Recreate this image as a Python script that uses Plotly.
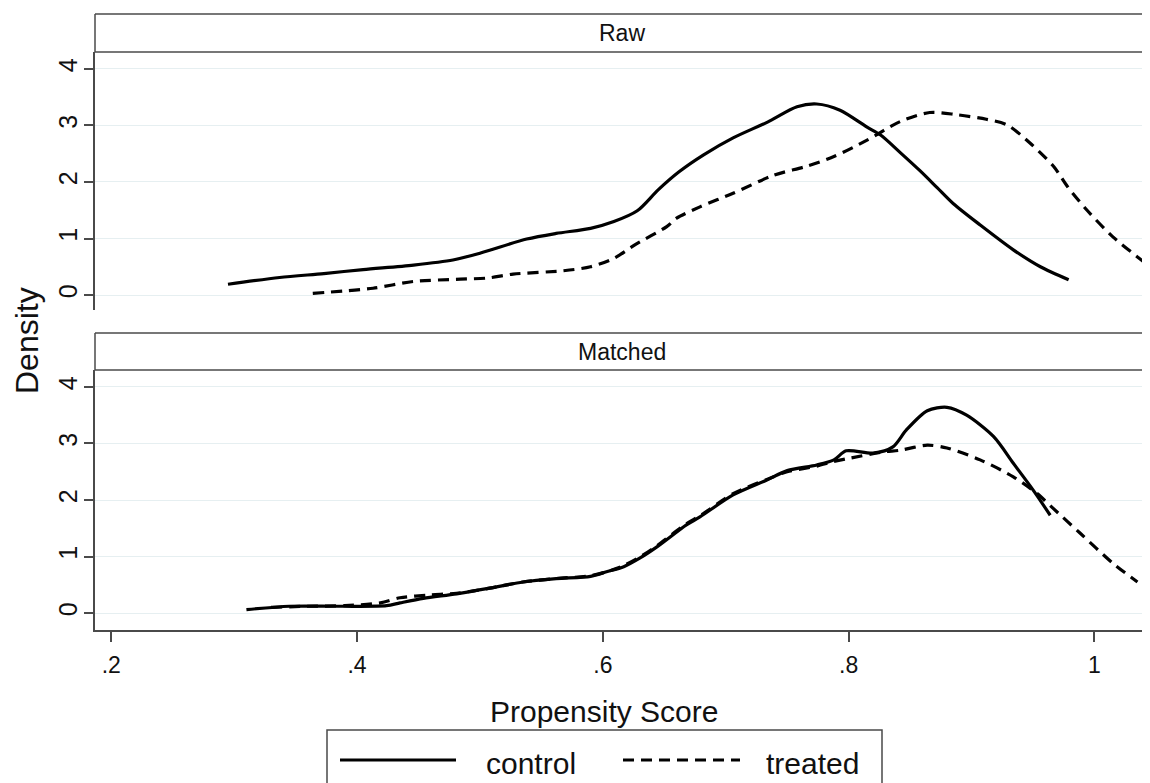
import plotly.graph_objects as go

# The page body has an 8px margin, so the figure is drawn 8px smaller and
# all reference pixel positions are shifted by that offset.
OFF = 8
W, H = 1150 - OFF, 783 - OFF

# ---------------- data ----------------
raw_control_x = [0.295, 0.337, 0.373, 0.405, 0.446, 0.478, 0.500, 0.538, 0.562, 0.590, 0.609, 0.628,
                 0.645, 0.662, 0.682, 0.706, 0.734, 0.758, 0.774, 0.793, 0.815, 0.826, 0.842, 0.858,
                 0.872, 0.885, 0.907, 0.934, 0.956, 0.979]
raw_control_y = [0.19, 0.31, 0.38, 0.45, 0.53, 0.62, 0.74, 0.99, 1.09, 1.18, 1.30, 1.49,
                 1.86, 2.18, 2.48, 2.78, 3.06, 3.33, 3.38, 3.27, 2.97, 2.83, 2.52, 2.20,
                 1.90, 1.62, 1.24, 0.80, 0.50, 0.27]

raw_treated_x = [0.364, 0.413, 0.446, 0.484, 0.506, 0.527, 0.568, 0.590, 0.609, 0.627, 0.652, 0.660,
                 0.679, 0.706, 0.739, 0.766, 0.788, 0.815, 0.842, 0.866, 0.888, 0.912, 0.929, 0.948,
                 0.967, 0.978, 0.994, 1.015, 1.040]
raw_treated_y = [0.03, 0.12, 0.24, 0.28, 0.30, 0.37, 0.43, 0.50, 0.65, 0.90, 1.21, 1.36,
                 1.56, 1.80, 2.12, 2.28, 2.45, 2.74, 3.07, 3.23, 3.19, 3.11, 3.01, 2.68,
                 2.27, 1.92, 1.50, 1.03, 0.59]

matched_control_x = [0.310, 0.345, 0.386, 0.424, 0.435, 0.454, 0.481, 0.508, 0.535, 0.562, 0.590, 0.603,
                     0.617, 0.630, 0.644, 0.668, 0.679, 0.706, 0.733, 0.750, 0.774, 0.788, 0.798, 0.820,
                     0.836, 0.847, 0.864, 0.880, 0.896, 0.918, 0.934, 0.950, 0.964]
matched_control_y = [0.06, 0.12, 0.12, 0.13, 0.18, 0.26, 0.34, 0.44, 0.55, 0.61, 0.65, 0.73,
                     0.82, 0.97, 1.17, 1.56, 1.70, 2.09, 2.35, 2.52, 2.62, 2.71, 2.87, 2.83,
                     2.94, 3.24, 3.58, 3.64, 3.50, 3.12, 2.65, 2.18, 1.73]

matched_treated_x = [0.330, 0.360, 0.390, 0.419, 0.435, 0.459, 0.481, 0.508, 0.535, 0.562, 0.590, 0.603,
                     0.617, 0.630, 0.644, 0.668, 0.679, 0.706, 0.733, 0.750, 0.774, 0.788, 0.801, 0.828,
                     0.842, 0.864, 0.880, 0.907, 0.934, 0.953, 0.966, 0.988, 1.015, 1.035]
matched_treated_y = [0.10, 0.12, 0.13, 0.18, 0.27, 0.32, 0.35, 0.44, 0.55, 0.61, 0.66, 0.73,
                     0.84, 0.99, 1.19, 1.58, 1.72, 2.11, 2.36, 2.50, 2.60, 2.68, 2.74, 2.85,
                     2.88, 2.97, 2.92, 2.71, 2.41, 2.12, 1.86, 1.42, 0.88, 0.55]

x_tick_vals = [0.2, 0.4, 0.6, 0.8, 1.0]
x_tick_text = [".2", ".4", ".6", ".8", "1"]
y_tick_vals = [0, 1, 2, 3, 4]
y_tick_text = ["0", "1", "2", "3", "4"]
panel_titles = ["Raw", "Matched"]
legend_names = ["control", "treated"]
x_title = "Propensity Score"
y_title = "Density"

# ---------------- helpers (reference pixel -> paper fraction) ----------------
def fx(px):
    return (px - OFF) / W

def fy(py):
    return 1 - (py - OFF) / H

FONT = "Liberation Sans, Arial, Helvetica, sans-serif"
DASH = "11px,7px"
LW = 3.2
AXC = "#4a4a4a"
GRID = "#e6eff1"

fig = go.Figure()

def add_line(x, y, dash, xa, ya):
    fig.add_trace(go.Scatter(x=x, y=y, mode="lines", xaxis=xa, yaxis=ya,
                             line=dict(color="black", width=LW, dash=dash, shape="spline", smoothing=0.8),
                             showlegend=False, hoverinfo="skip"))

add_line(raw_control_x, raw_control_y, "solid", "x", "y")
add_line(raw_treated_x, raw_treated_y, DASH, "x", "y")
add_line(matched_control_x, matched_control_y, "solid", "x2", "y2")
add_line(matched_treated_x, matched_treated_y, DASH, "x2", "y2")

x_range = [0.1868, 1.0452]
x_dom = [fx(95), 1.0]

common_y = dict(tickmode="array", tickvals=y_tick_vals, ticktext=y_tick_text, tickangle=-90,
                ticks="outside", ticklen=9, tickwidth=1.5, tickcolor=AXC,
                showline=True, linecolor=AXC, linewidth=1.5,
                showgrid=True, gridcolor=GRID, gridwidth=1.2, zeroline=False,
                ticklabelstandoff=-3,
                tickfont=dict(family=FONT, size=25, color="#111"), fixedrange=True)

fig.update_layout(
    width=W, height=H,
    margin=dict(l=0, r=0, t=0, b=0, autoexpand=False),
    paper_bgcolor="white", plot_bgcolor="white",
    showlegend=False,
    xaxis=dict(domain=x_dom, range=x_range, anchor="y", showticklabels=False, ticks="",
               showline=False, showgrid=False, zeroline=False, fixedrange=True),
    yaxis=dict(domain=[fy(310), fy(52)], range=[-0.265, 4.30], anchor="x", **common_y),
    xaxis2=dict(domain=x_dom, range=x_range, anchor="y2", tickmode="array",
                tickvals=x_tick_vals, ticktext=x_tick_text, ticks="outside", ticklen=10,
                tickwidth=1.5, tickcolor=AXC, showline=True, linecolor=AXC, linewidth=1.5,
                showgrid=False, zeroline=False, ticklabelstandoff=4,
                tickfont=dict(family=FONT, size=23, color="#111"), fixedrange=True),
    yaxis2=dict(domain=[fy(630), fy(370)], range=[-0.30, 4.30], anchor="x2", **common_y),
)

shapes = []
# strip boxes
for top, bot in [(14, 52), (333, 370)]:
    shapes.append(dict(type="line", xref="paper", yref="paper", x0=fx(95), x1=1.0,
                       y0=fy(top), y1=fy(top), line=dict(color=AXC, width=1.6)))
    shapes.append(dict(type="line", xref="paper", yref="paper", x0=fx(95), x1=1.0,
                       y0=fy(bot), y1=fy(bot), line=dict(color=AXC, width=1.6)))
    shapes.append(dict(type="line", xref="paper", yref="paper", x0=fx(95), x1=fx(95),
                       y0=fy(top), y1=fy(bot), line=dict(color=AXC, width=1.5)))
# legend box
shapes.append(dict(type="rect", xref="paper", yref="paper", x0=fx(327), x1=fx(882),
                   y0=fy(800), y1=fy(730), line=dict(color=AXC, width=1.5), fillcolor="white"))
shapes.append(dict(type="line", xref="paper", yref="paper", x0=fx(340), x1=fx(456),
                   y0=fy(760), y1=fy(760), line=dict(color="black", width=LW)))
shapes.append(dict(type="line", xref="paper", yref="paper", x0=fx(623), x1=fx(740),
                   y0=fy(760), y1=fy(760), line=dict(color="black", width=LW, dash=DASH)))
fig.update_layout(shapes=shapes)

def label(text, px, py, size, xanchor="center", angle=0):
    return dict(text=text, x=fx(px), y=fy(py), xref="paper", yref="paper", textangle=angle,
                showarrow=False, xanchor=xanchor, yanchor="middle",
                font=dict(family=FONT, size=size, color="#111"))

ann = [
    label(panel_titles[0], 622, 33, 23),
    label(panel_titles[1], 622, 352, 23),
    label(x_title, 604, 711, 30),
    label(y_title, 27, 341, 32, angle=-90),
    label(legend_names[0], 484, 763, 30, xanchor="left"),
    label(legend_names[1], 764, 763, 30, xanchor="left"),
]
fig.update_layout(annotations=ann)

fig.write_html("out.html")
